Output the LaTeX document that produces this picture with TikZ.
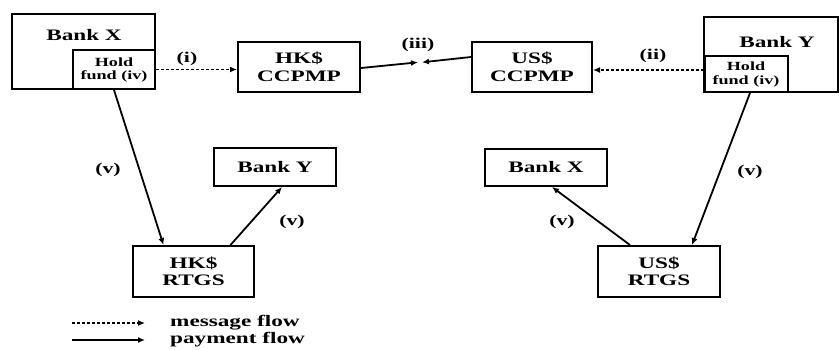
\documentclass[tikz,border=0pt]{standalone}
\usepackage{graphicx}
\usepackage{fontspec}
\setmainfont{Liberation Serif}
\usetikzlibrary{arrows.meta,positioning,calc}
\newcommand{\wtext}[1]{\scalebox{1.45}[1]{#1}}
\tikzset{
  boxtext/.style={font=\bfseries\fontsize{16}{17.5}\selectfont,align=center,inner sep=0pt},
  smalltext/.style={font=\bfseries\fontsize{12.5}{13.5}\selectfont,align=center,inner sep=0pt},
  flowlabel/.style={font=\bfseries\fontsize{15}{16}\selectfont,inner sep=0pt},
  legtext/.style={font=\bfseries\fontsize{16}{18}\selectfont,anchor=west,inner sep=0pt},
  frame/.style={draw=black,line width=2pt,rectangle,inner sep=0pt},
  msg/.style={-{Latex[length=7pt,width=6pt]},draw=black,line width=1.6pt,dash pattern=on 3pt off 2pt},
  pay/.style={-{Latex[length=7pt,width=6pt]},draw=black,line width=1.8pt}
}
\begin{document}
\begin{tikzpicture}[x=1pt,y=-1pt]
\path[use as bounding box] (0,0) rectangle (839,349);
% top row
\node[frame,minimum width=143pt,minimum height=75pt] (bankx) at (83.5,51.5) {};
\node[boxtext] (bankxtxt) at (84,35) {\wtext{Bank X}};
\node[frame,minimum width=82pt,minimum height=39pt] (holdx) at (114,69.5) {};
\node[smalltext] (holdxtxt) at (114,70) {\wtext{Hold}\\\wtext{fund (iv)}};
\node[frame,minimum width=122pt,minimum height=50pt,boxtext] (hkcc) at (299,67) {\wtext{HK\$}\\\wtext{CCPMP}};
\node[frame,minimum width=120pt,minimum height=50pt,boxtext] (uscc) at (532,67) {\wtext{US\$}\\\wtext{CCPMP}};
\node[frame,minimum width=134pt,minimum height=75pt] (banky) at (771,54.5) {};
\node[boxtext] (bankytxt) at (777,42) {\wtext{Bank Y}};
\node[frame,minimum width=83pt,minimum height=36pt] (holdy) at (746,74) {};
\node[smalltext] (holdytxt) at (746,74.5) {\wtext{Hold}\\\wtext{fund (iv)}};
% bottom row
\node[frame,minimum width=122pt,minimum height=38pt,boxtext] (bankyl) at (275,167) {\wtext{Bank Y}};
\node[frame,minimum width=121pt,minimum height=51pt,boxtext] (hkrtgs) at (193.5,271.5) {\wtext{HK\$}\\\wtext{RTGS}};
\node[frame,minimum width=122pt,minimum height=37pt,boxtext] (bankxl) at (546,167.5) {\wtext{Bank X}};
\node[frame,minimum width=122pt,minimum height=51pt,boxtext] (usrtgs) at (659,271.5) {\wtext{US\$}\\\wtext{RTGS}};
% flows
\draw[msg] (holdx.east) -- (holdx.east -| hkcc.west);
\draw[msg] ([yshift=4pt]holdy.west) -- ([yshift=4pt]holdy.west -| uscc.east);
\coordinate (meet) at (418,62.3);
\draw[pay] ([yshift=-1pt]hkcc.east) -- (meet); \draw[pay] ([yshift=10pt]uscc.west) -- ([xshift=4pt]meet);
\draw[pay] (holdx.south) -- ([xshift=-30pt]hkrtgs.north);
\draw[pay] ([xshift=37pt]hkrtgs.north) -- ([xshift=7pt]bankyl.south);
\draw[pay] ([xshift=4pt]holdy.south) -- ([xshift=33pt]usrtgs.north);
\draw[pay] ([xshift=-29pt]usrtgs.north) -- ([xshift=6pt]bankxl.south);
\node[flowlabel] (lbli) at (187,59) {\wtext{(i)}};
\node[flowlabel] (lblii) at (653,56) {\wtext{(ii)}};
\node[flowlabel] (lbliii) at (418,45) {\wtext{(iii)}};
\node[flowlabel] (lblva) at (108,170) {\wtext{(v)}};
\node[flowlabel] (lblvb) at (292,222) {\wtext{(v)}};
\node[flowlabel] (lblvc) at (750,172) {\wtext{(v)}};
\node[flowlabel] (lblvd) at (562,222) {\wtext{(v)}};
% legend
\coordinate (msgA) at (72,323); \coordinate (msgB) at (145,323);
\coordinate (payA) at (72,340); \coordinate (payB) at (145,340);
\draw[msg] (msgA) -- (msgB); \draw[pay] (payA) -- (payB);
\node[legtext] (msgtxt) at (170,323) {\wtext{message flow}};
\node[legtext] (paytxt) at (170,340) {\wtext{payment flow}};
\end{tikzpicture}
\end{document}
